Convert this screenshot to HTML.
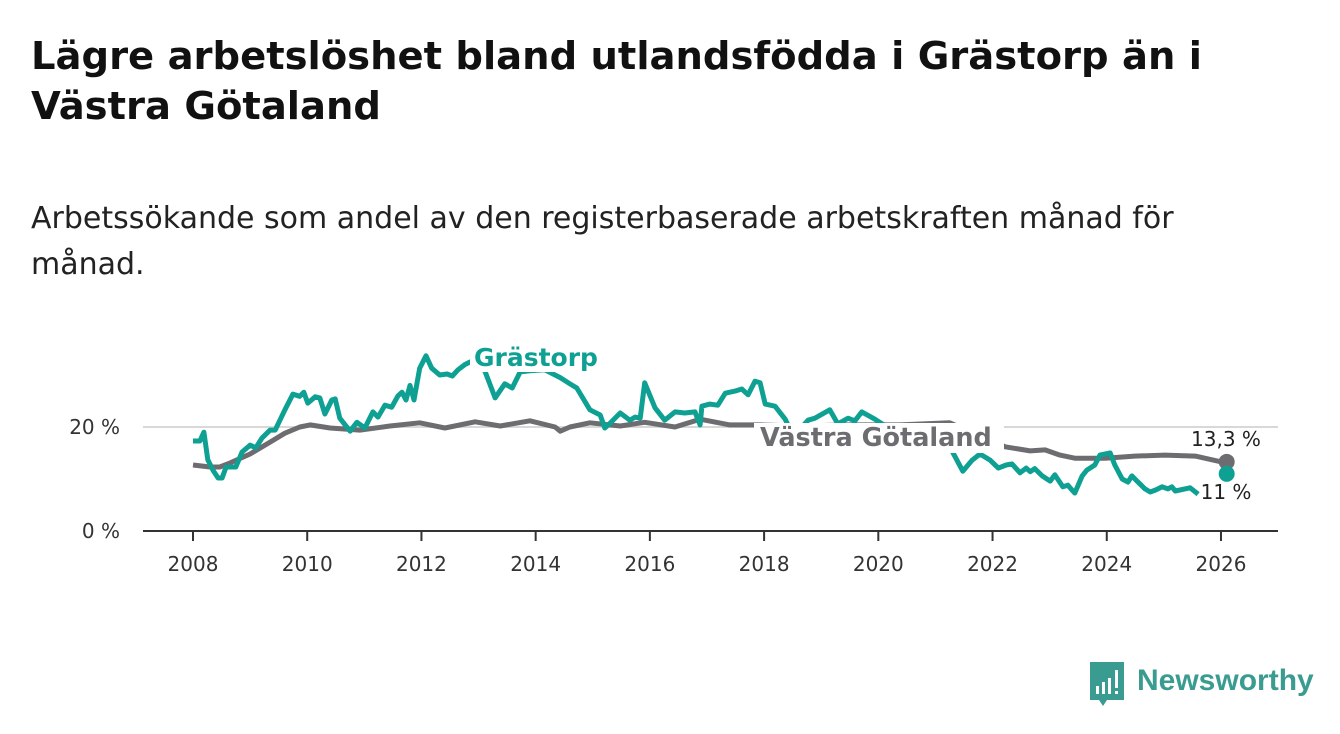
<!DOCTYPE html>
<html><head><meta charset="utf-8"><style>
body{margin:0;background:#fff;width:1340px;height:734px;overflow:hidden;font-family:"DejaVu Sans","Liberation Sans",sans-serif;}
h1{position:absolute;left:31px;top:32px;margin:0;font-size:38.5px;line-height:50px;font-weight:bold;color:#111;width:1300px;white-space:nowrap}
.sub{position:absolute;left:31px;top:196px;font-size:30px;line-height:46px;color:#222;width:1300px;white-space:nowrap}
svg{position:absolute;left:0;top:0}
</style></head><body>
<h1>Lägre arbetslöshet bland utlandsfödda i Grästorp än i<br>Västra Götaland</h1>
<div class="sub">Arbetssökande som andel av den registerbaserade arbetskraften månad för<br>månad.</div>
<svg id="c" width="1340" height="734"></svg>
<script>
const gYears=[2008.00,2008.12,2008.19,2008.26,2008.35,2008.44,2008.51,2008.58,2008.75,2008.86,2009.00,2009.10,2009.21,2009.35,2009.44,2009.61,2009.75,2009.87,2009.94,2010.01,2010.14,2010.22,2010.31,2010.43,2010.49,2010.57,2010.75,2010.87,2011.01,2011.15,2011.24,2011.36,2011.48,2011.59,2011.66,2011.73,2011.80,2011.87,2011.97,2012.08,2012.18,2012.32,2012.45,2012.54,2012.64,2012.76,2012.85,2013.11,2013.29,2013.46,2013.59,2013.73,2013.90,2014.16,2014.43,2014.60,2014.72,2014.95,2015.13,2015.21,2015.32,2015.48,2015.65,2015.74,2015.83,2015.91,2016.09,2016.26,2016.44,2016.61,2016.79,2016.88,2016.91,2017.05,2017.19,2017.32,2017.49,2017.61,2017.72,2017.84,2017.93,2018.02,2018.19,2018.37,2018.45,2018.63,2018.77,2018.89,2019.15,2019.29,2019.47,2019.59,2019.71,2019.94,2020.29,2020.73,2021.08,2021.29,2021.48,2021.64,2021.78,2021.96,2022.10,2022.24,2022.34,2022.48,2022.59,2022.66,2022.74,2022.87,2023.01,2023.09,2023.23,2023.32,2023.39,2023.44,2023.57,2023.65,2023.79,2023.88,2024.06,2024.14,2024.27,2024.37,2024.44,2024.53,2024.67,2024.76,2024.86,2024.97,2025.07,2025.14,2025.20,2025.46,2025.60];
const gValues=[17.3,17.3,19,13.7,11.7,10.2,10.2,12.3,12.3,15.2,16.5,16,17.9,19.4,19.4,23.3,26.3,25.9,26.7,24.6,25.8,25.6,22.5,25.2,25.4,21.7,19.2,20.9,19.8,22.9,21.9,24.2,23.8,26,26.7,25.2,28,25.2,31.3,33.7,31.3,30,30.2,29.8,31,32,32.5,30.8,25.6,28.3,27.5,30.6,30.8,31,29.5,28.3,27.5,23.3,22.3,19.8,20.9,22.7,21.3,21.9,21.7,28.5,23.7,21.3,22.9,22.7,22.9,20.4,24,24.4,24.2,26.5,26.9,27.3,26.2,28.8,28.5,24.4,24,21.5,19.6,19.6,21.3,21.7,23.3,20.6,21.7,21.2,22.9,21.5,19,15.6,15.8,15.4,11.5,13.6,14.8,13.6,12.1,12.7,12.9,11.2,12.1,11.4,12,10.6,9.6,10.8,8.5,8.8,7.9,7.3,10.6,11.7,12.7,14.6,15,12.7,10,9.4,10.6,9.6,8.1,7.5,7.9,8.5,8.1,8.5,7.7,8.3,7.1];
const vYears=[2008.00,2008.30,2008.47,2008.65,2009.00,2009.35,2009.61,2009.87,2010.05,2010.40,2010.92,2011.45,2011.97,2012.41,2012.94,2013.38,2013.90,2014.34,2014.43,2014.60,2014.95,2015.48,2015.91,2016.44,2016.88,2017.40,2017.93,2018.63,2019.50,2020.38,2021.25,2021.96,2022.22,2022.66,2022.92,2023.18,2023.44,2023.97,2024.49,2025.02,2025.55,2026.00];
const vValues=[12.7,12.3,12.3,13.1,14.8,17.1,18.8,20,20.4,19.8,19.4,20.2,20.8,19.8,21,20.2,21.2,20,19.2,20,20.8,20.2,20.9,20,21.5,20.4,20.4,20.2,20.4,20.4,20.8,17.5,16.2,15.4,15.6,14.6,14,14,14.4,14.6,14.4,13.3];
const lastYear=2026.1, gLast=11, vLast=13.3;
const xTicks=[2008,2010,2012,2014,2016,2018,2020,2022,2024,2026];
const yTicks=[0,20];
const X=y=>193+(y-2008)*57.11, Y=v=>531-v*5.2;
const svg=document.getElementById('c'),NS='http://www.w3.org/2000/svg';
function mk(t,a,txt){const e=document.createElementNS(NS,t);for(const k in a)e.setAttribute(k,a[k]);if(txt!==undefined)e.textContent=txt;svg.appendChild(e);return e;}
yTicks.forEach(v=>{
 if(v>0){const l=mk('line',{x1:143,x2:1278,y1:Y(v),y2:Y(v),stroke:'#d8d8d8','stroke-width':2});
 
 }
 const t=mk('text',{x:120,y:Y(v)+7,'text-anchor':'end','font-size':20,fill:'#333'},v+' %');
 
 
});
const ax=mk('line',{x1:143,x2:1278,y1:531,y2:531,stroke:'#333','stroke-width':2});


xTicks.forEach(y=>{
 const tk=mk('line',{x1:X(y),x2:X(y),y1:531,y2:541,stroke:'#333','stroke-width':2});
 
 
 const t=mk('text',{x:X(y),y:571,'text-anchor':'middle','font-size':20,fill:'#333'},y);
 
 
});
function line(ys,vs,col,name){
 const d=ys.map((y,i)=>(i?'L':'M')+X(y).toFixed(1)+' '+Y(vs[i]).toFixed(1)).join('');
 const p=mk('path',{d:d,fill:'none',stroke:col,'stroke-width':5,'stroke-linejoin':'round'});
 
 
}
line(vYears,vValues,'#6d6c70','vastra-gotaland-line');
line(gYears,gValues,'#0ea193','grastorp-line');
const d1=mk('circle',{cx:X(lastYear),cy:Y(vLast),r:8,fill:'#6d6c70'});


const d2=mk('circle',{cx:X(lastYear),cy:Y(gLast),r:8,fill:'#0ea193'});


const b1=mk('rect',{x:470,y:338,width:138,height:34,fill:'#fff'});


const b2=mk('rect',{x:754,y:423,width:250,height:30,fill:'#fff'});


const l1=mk('text',{x:474,y:366,'font-size':25,'font-weight':'bold',fill:'#0ea193'},'Grästorp');


const l2=mk('text',{x:760,y:446,'font-size':25.5,'font-weight':'bold',fill:'#6d6c70'},'Västra Götaland');


const v1=mk('text',{x:1226,y:446,'text-anchor':'middle','font-size':20,fill:'#222',stroke:'#fff','stroke-width':5,'paint-order':'stroke'},vLast.toString().replace('.',',')+' %');


const v2=mk('text',{x:1226,y:499,'text-anchor':'middle','font-size':20,fill:'#222',stroke:'#fff','stroke-width':5,'paint-order':'stroke'},gLast+' %');


</script>
<svg width="1340" height="734" style="pointer-events:none">
<path d="M1090 662h34v38h-17l-4 6-4-6h-9z" fill="#3a9c91"/>
<rect x="1096" y="686" width="3" height="8" fill="#fff"/><rect x="1102" y="682" width="3" height="12" fill="#fff"/><rect x="1108" y="678" width="3" height="16" fill="#fff"/><rect x="1115" y="670" width="3" height="18" fill="#fff"/><rect x="1115" y="691" width="3" height="3" fill="#fff"/>
<text x="1137" y="690" font-size="30" font-weight="bold" fill="#3a9c91" font-family="Liberation Sans, sans-serif">Newsworthy</text>
</svg>
</body></html>
